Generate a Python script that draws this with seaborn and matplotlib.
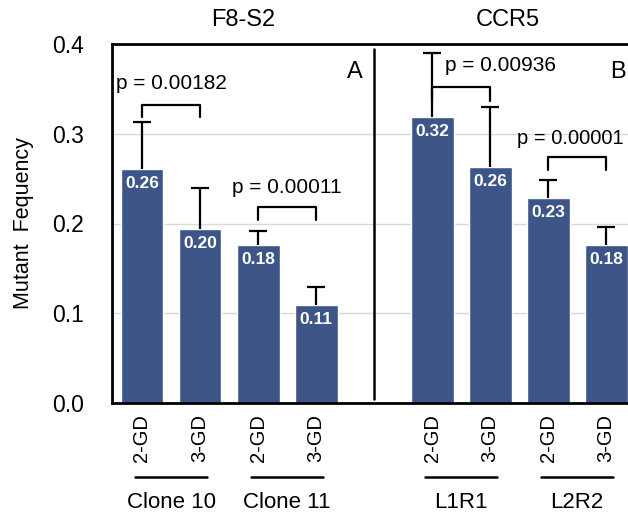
import matplotlib
matplotlib.use("Agg")
import matplotlib.pyplot as plt
import matplotlib.transforms as mtransforms
import seaborn as sns
import pandas as pd

# ---- data ----
groups = ["Clone 10", "Clone 10", "Clone 11", "Clone 11", "L1R1", "L1R1", "L2R2", "L2R2"]
treatments = ["2-GD", "3-GD", "2-GD", "3-GD", "2-GD", "3-GD", "2-GD", "3-GD"]
means = [0.261, 0.194, 0.176, 0.109, 0.319, 0.263, 0.228, 0.176]
errors = [0.052, 0.045, 0.016, 0.020, 0.071, 0.067, 0.020, 0.020]
value_labels = ["0.26", "0.20", "0.18", "0.11", "0.32", "0.26", "0.23", "0.18"]
panel_titles = ["F8-S2", "CCR5"]
panel_letters = ["A", "B"]
p_values = ["p = 0.00182", "p = 0.00011", "p = 0.00936", "p = 0.00001"]
y_ticks = [0.0, 0.1, 0.2, 0.3, 0.4]
y_label = "Mutant  Fequency"

keys = [f"{g}|{t}" for g, t in zip(groups, treatments)]
df = pd.DataFrame({"key": keys, "value": means})
order = keys[:4] + ["gap"] + keys[4:]
pos = [order.index(k) for k in keys]
gap_pos = order.index("gap")

# ---- style ----
sns.set_theme(style="white")
plt.rcParams["font.family"] = ["Liberation Sans", "DejaVu Sans"]
for k in ["text.color", "axes.labelcolor", "xtick.color", "ytick.color"]:
    plt.rcParams[k] = "black"
BAR = "#3E5588"

fig = plt.figure(figsize=(6.28, 5.14), dpi=100)
ax = fig.add_axes([112 / 628, 111 / 514, 529 / 628, 359 / 514])

sns.barplot(data=df, x="key", y="value", order=order, color=BAR, saturation=1,
            width=0.74, errorbar=None, ax=ax, zorder=2)

# error bars (upper only)
eb = ax.errorbar(pos, means, yerr=[[0] * len(means), errors], fmt="none",
                 ecolor="black", elinewidth=1.6, capsize=6.5, capthick=1.6, zorder=3)
eb[1][0].set_visible(False)  # hide lower caps

# value labels inside bars
for x, m, lab in zip(pos, means, value_labels):
    ax.annotate(lab, (x, m), xytext=(0, -5), textcoords="offset points",
                ha="center", va="top", color="white", fontsize=12.5,
                fontweight="bold", zorder=4)

# limits, ticks, grid
ax.set_xlim(-0.517, 8.6)
ax.set_ylim(0, 0.4)
ax.set_yticks(y_ticks)
ax.set_yticklabels([f"{v:.1f}" for v in y_ticks], fontsize=16.5)
ax.set_xticks(pos)
ax.set_xticklabels(treatments, rotation=90, fontsize=14.5, va="top", ha="center")
ax.tick_params(axis="y", length=0, pad=20)
ax.tick_params(axis="x", length=0, pad=8)
ax.set_xlabel("")
ax.set_ylabel(y_label, fontsize=15.5, labelpad=13)
ax.yaxis.grid(True, color="#d9d9d9", lw=1, zorder=0)
ax.set_axisbelow(True)
for side in ["left", "top", "bottom"]:
    ax.spines[side].set_linewidth(2)
    ax.spines[side].set_color("black")
ax.spines["right"].set_visible(False)

# divider between panels
ax.plot([gap_pos, gap_pos], [0.005, 0.394], color="black", lw=1.8, zorder=3, clip_on=False)

# panel titles and letters
trans_title = mtransforms.blended_transform_factory(ax.transData, ax.transAxes)
ax.text(1.74, 1.067, panel_titles[0], transform=trans_title, ha="center", va="center", fontsize=17)
ax.text(6.3, 1.067, panel_titles[1], transform=trans_title, ha="center", va="center", fontsize=17)
ax.text(3.53, 0.369, panel_letters[0], ha="left", va="center", fontsize=17)
ax.text(8.07, 0.369, panel_letters[1], ha="left", va="center", fontsize=17)

# significance brackets
brackets = [
    (0, 0.332, 0.319, 0.5, 0.3565, "center", 15),
    (2, 0.218, 0.204, 2.5, 0.2396, "center", 15),
    (5, 0.352, 0.337, 5.22, 0.3766, "left", 15),
    (7, 0.274, 0.260, 6.47, 0.295, "left", 14.5),
]
for (i, ytop, yleg, tx, ty, ha, fs), ptxt in zip(brackets, p_values):
    ax.plot([i, i, i + 1, i + 1], [yleg, ytop, ytop, yleg],
            color="black", lw=1.6, zorder=3, clip_on=False)
    ax.text(tx, ty, ptxt, ha=ha, va="center", fontsize=fs, zorder=4)

# group underlines and labels
for g in dict.fromkeys(groups):
    idx = [p for p, gg in zip(pos, groups) if gg == g]
    x0, x1 = min(idx), max(idx)
    ax.plot([x0 - 0.12, x1 + 0.12], [-0.206, -0.206], transform=trans_title,
            color="black", lw=1.8, clip_on=False)
    ax.text((x0 + x1) / 2, -0.276, g, transform=trans_title, ha="center",
            va="center", fontsize=16)

fig.savefig("out.png", dpi=100)
